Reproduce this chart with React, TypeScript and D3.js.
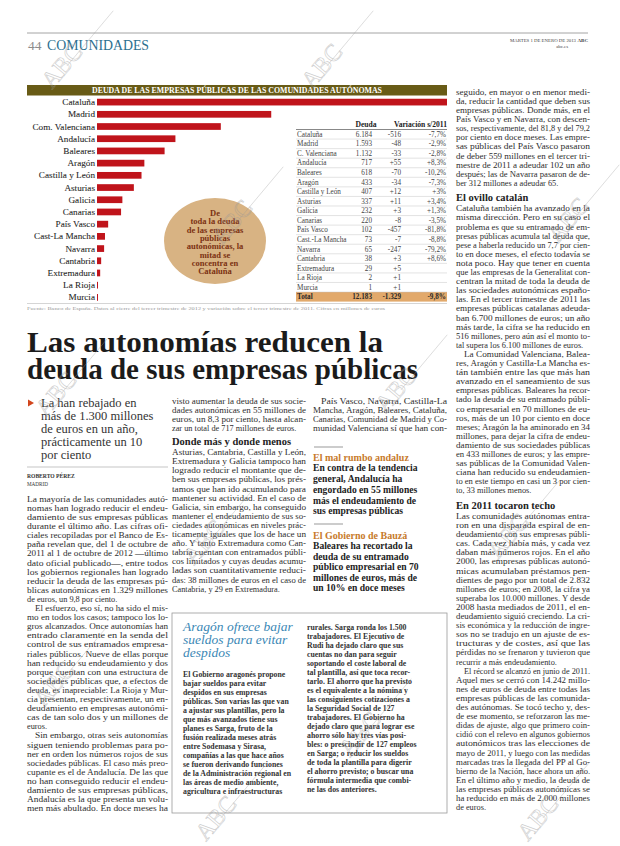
import React from 'react';
import * as d3 from 'd3';

// ---------- DATA ----------
const categories = ['Cataluña', 'Madrid', 'Com. Valenciana', 'Andalucía', 'Baleares', 'Aragón', 'Castilla y León', 'Asturias', 'Galicia', 'Canarias', 'País Vasco', 'Cast-La Mancha', 'Navarra', 'Cantabria', 'Extremadura', 'La Rioja', 'Murcia'];
const tableNames = ['Cataluña', 'Madrid', 'C. Valenciana', 'Andalucía', 'Baleares', 'Aragón', 'Castilla y León', 'Asturias', 'Galicia', 'Canarias', 'País Vasco', 'Cast.-La Mancha', 'Navarra', 'Cantabria', 'Extremadura', 'La Rioja', 'Murcia'];
const debt = [6184, 1593, 1132, 717, 618, 433, 407, 337, 232, 220, 102, 73, 65, 38, 29, 2, 1];
const variation = [-516, -48, -33, 55, -70, -34, 12, 11, 3, -8, -457, -7, -247, 3, 5, 1, 1];
const variationPct = ['-7,7%', '-2,9%', '-2,8%', '+8,3%', '-10,2%', '-7,3%', '+3%', '+3,4%', '+1,3%', '-3,5%', '-81,8%', '-8,8%', '-79,2%', '+8,6%', '', '', ''];
const totalLabel = 'Total';
const totalDebt = 12183;
const totalVariation = -1329;
const totalPct = '-9,8%';

const chartTitle = 'DEUDA DE LAS EMPRESAS PÚBLICAS DE LAS COMUNIDADES AUTÓNOMAS';
const sourceNote = 'Fuente: Banco de España. Datos al cierre del tercer trimestre de 2012 y variación sobre el tercer trimestre de 2011. Cifras en millones de euros';
const calloutLines = ['De', 'toda la deuda', 'de las empresas', 'públicas', 'autonómicas, la', 'mitad se', 'concentra en', 'Cataluña'];

const headlineLines = ['Las autonomías reducen la', 'deuda de sus empresas públicas'];
const deckLines = ['La han rebajado en', 'más de 1.300 millones', 'de euros en un año,', 'prácticamente un 10', 'por ciento'];

const col1 = [
  { indent: false, ends: true, lines: [
    'La mayoría de las comunidades autó-', 'nomas han logrado reducir el endeu-', 'damiento de sus empresas públicas',
    'durante el último año. Las cifras ofi-', 'ciales recopiladas por el Banco de Es-', 'paña revelan que, del 1 de octubre de',
    '2011 al 1 de octubre de 2012 —último', 'dato oficial publicado—, entre todos', 'los gobiernos regionales han logrado',
    'reducir la deuda de las empresas pú-', 'blicas autonómicas en 1.329 millones', 'de euros, un 9,8 por ciento.'] },
  { indent: true, ends: true, lines: [
    'El esfuerzo, eso sí, no ha sido el mis-', 'mo en todos los casos; tampoco los lo-', 'gros alcanzados. Once autonomías han',
    'entrado claramente en la senda del', 'control de sus entramados empresa-', 'riales públicos. Nueve de ellas porque',
    'han reducido su endeudamiento y dos', 'porque cuentan con una estructura de', 'sociedades públicas que, a efectos de',
    'deuda, es inapreciable: La Rioja y Mur-', 'cia presentan, respectivamente, un en-', 'deudamiento en empresas autonómi-',
    'cas de tan solo dos y un millones de', 'euros.'] },
  { indent: true, ends: false, lines: [
    'Sin embargo, otras seis autonomías', 'siguen teniendo problemas para po-', 'ner en orden los números rojos de sus',
    'sociedades públicas. El caso más preo-', 'cupante es el de Andalucía. De las que', 'no han conseguido reducir el endeu-',
    'damiento de sus empresas públicas,', 'Andalucía es la que presenta un volu-', 'men más abultado. En doce meses ha'] },
];

const col2 = [
  { indent: false, ends: true, lines: [
    'visto aumentar la deuda de sus socie-', 'dades autonómicas en 55 millones de', 'euros, un 8,3 por ciento, hasta alcan-',
    'zar un total de 717 millones de euros.'] },
  { heading: 'Donde más y donde menos' },
  { indent: false, ends: true, lines: [
    'Asturias, Cantabria, Castilla y León,', 'Extremadura y Galicia tampoco han', 'logrado reducir el montante que de-',
    'ben sus empresas públicas, los prés-', 'tamos que han ido acumulando para', 'mantener su actividad. En el caso de',
    'Galicia, sin embargo, ha conseguido', 'mantener el endeudamiento de sus so-', 'ciedades autonómicas en niveles prác-',
    'ticamente iguales que los de hace un', 'año. Y tanto Extremadura como Can-', 'tabria cuentan con entramados públi-',
    'cos limitados y cuyas deudas acumu-', 'ladas son cuantitativamente reduci-', 'das: 38 millones de euros en el caso de',
    'Cantabria, y 29 en Extremadura.'] },
];

const col3 = [
  { indent: true, ends: false, lines: [
    'País Vasco, Navarra, Castilla-La', 'Mancha, Aragón, Baleares, Cataluña,', 'Canarias, Comunidad de Madrid y Co-',
    'munidad Valenciana sí que han con-'] },
];

const sideHead1 = 'El mal rumbo andaluz';
const sideText1 = ['En contra de la tendencia', 'general, Andalucía ha', 'engordado en 55 millones', 'más el endeudamiento de', 'sus empresas públicas'];
const sideHead2 = 'El Gobierno de Bauzá';
const sideText2 = ['Baleares ha recortado la', 'deuda de su entramado', 'público empresarial en 70', 'millones de euros, más de', 'un 10% en doce meses'];

const col4 = [
  { indent: false, ends: true, lines: [
    'seguido, en mayor o en menor medi-', 'da, reducir la cantidad que deben sus', 'empresas públicas. Donde más, en el',
    'País Vasco y en Navarra, con descen-', 'sos, respectivamente, del 81,8 y del 79,2', 'por ciento en doce meses. Las empre-',
    'sas públicas del País Vasco pasaron', 'de deber 559 millones en el tercer tri-', 'mestre de 2011 a adeudar 102 un año',
    'después; las de Navarra pasaron de de-', 'ber 312 millones a adeudar 65.'] },
  { heading: 'El ovillo catalán' },
  { indent: false, ends: true, lines: [
    'Cataluña también ha avanzado en la', 'misma dirección. Pero en su caso el', 'problema es que su entramado de em-',
    'presas públicas acumula tal deuda que,', 'pese a haberla reducido un 7,7 por cien-', 'to en doce meses, el efecto todavía se',
    'nota poco. Hay que tener en cuenta', 'que las empresas de la Generalitat con-', 'centran la mitad de toda la deuda de',
    'las sociedades autonómicas españo-', 'las. En el tercer trimestre de 2011 las', 'empresas públicas catalanas adeuda-',
    'ban 6.700 millones de euros; un año', 'más tarde, la cifra se ha reducido en', '516 millones, pero aún así el monto to-',
    'tal supera los 6.100 millones de euros.'] },
  { indent: true, ends: true, lines: [
    'La Comunidad Valenciana, Balea-', 'res, Aragón y Castilla-La Mancha es-', 'tán también entre las que más han',
    'avanzado en el saneamiento de sus', 'empresas públicas. Baleares ha recor-', 'tado la deuda de su entramado públi-',
    'co empresarial en 70 millones de eu-', 'ros, más de un 10 por ciento en doce', 'meses; Aragón la ha aminorado en 34',
    'millones, para dejar la cifra de endeu-', 'damiento de sus sociedades públicas', 'en 433 millones de euros; y las empre-',
    'sas públicas de la Comunidad Valen-', 'ciana han reducido su endeudamien-', 'to en este tiempo en casi un 3 por cien-',
    'to, 33 millones menos.'] },
  { heading: 'En 2011 tocaron techo' },
  { indent: false, ends: true, lines: [
    'Las comunidades autónomas entra-', 'ron en una disparada espiral de en-', 'deudamiento con sus empresas públi-',
    'cas. Cada vez había más, y cada vez', 'daban más números rojos. En el año', '2000, las empresas públicas autonó-',
    'micas acumulaban préstamos pen-', 'dientes de pago por un total de 2.832', 'millones de euros; en 2008, la cifra ya',
    'superaba los 10.000 millones. Y desde', '2008 hasta mediados de 2011, el en-', 'deudamiento siguió creciendo. La cri-',
    'sis económica y la reducción de ingre-', 'sos no se tradujo en un ajuste de es-', 'tructuras y de costes, así que las',
    'pérdidas no se frenaron y tuvieron que', 'recurrir a más endeudamiento.'] },
  { indent: true, ends: true, lines: [
    'El récord se alcanzó en junio de 2011.', 'Aquel mes se cerró con 14.242 millo-', 'nes de euros de deuda entre todas las',
    'empresas públicas de las comunida-', 'des autónomas. Se tocó techo y, des-', 'de ese momento, se reforzaron las me-',
    'didas de ajuste, algo que primero coin-', 'cidió con el relevo en algunos gobiernos', 'autonómicos tras las elecciones de',
    'mayo de 2011, y luego con las medidas', 'marcadas tras la llegada del PP al Go-', 'bierno de la Nación, hace ahora un año.',
    'En el último año y medio, la deuda de', 'las empresas públicas autonómicas se', 'ha reducido en más de 2.000 millones',
    'de euros.'] },
];

const boxTitle = ['Aragón ofrece bajar', 'sueldos para evitar', 'despidos'];
const boxColA = ['El Gobierno aragonés propone', 'bajar sueldos para evitar', 'despidos en sus empresas', 'públicas. Son varias las que van',
  'a ajustar sus plantillas, pero la', 'que más avanzados tiene sus', 'planes es Sarga, fruto de la', 'fusión realizada meses atrás',
  'entre Sodemasa y Sirasa,', 'compañías a las que hace años', 'se fueron derivando funciones', 'de la Administración regional en',
  'las áreas de medio ambiente,', 'agricultura e infraestructuras'];
const boxColB = ['rurales. Sarga ronda los 1.500', 'trabajadores. El Ejecutivo de', 'Rudi ha dejado claro que sus', 'cuentas no dan para seguir',
  'soportando el coste laboral de', 'tal plantilla, así que toca recor-', 'tarlo. El ahorro que ha previsto', 'es el equivalente a la nómina y',
  'las consiguientes cotizaciones a', 'la Seguridad Social de 127', 'trabajadores. El Gobierno ha', 'dejado claro que para lograr ese',
  'ahorro sólo hay tres vías posi-', 'bles: o prescindir de 127 empleos', 'en Sarga; o reducir los sueldos', 'de toda la plantilla para digerir',
  'el ahorro previsto; o buscar una', 'fórmula intermedia que combi-', 'ne las dos anteriores.'];

const watermarks = [[52, 90], [312, 90], [222, 246], [558, 244], [46, 418], [386, 414], [194, 566], [44, 708], [350, 758], [206, 842], [498, 560], [528, 842]];

// ---------- STYLE ----------
const serif = "'Liberation Serif', 'Times New Roman', serif";
const BODY_FS = 8.3;
const BODY_LH = 9.1;

type Item = { heading?: string; indent?: boolean; ends?: boolean; lines?: string[] };

function renderColumn(items: Item[], x: number, width: number, y0: number, key: string, headGap = 13) {
  const out: React.ReactNode[] = [];
  let y = y0;
  items.forEach((it, j) => {
    if (it.heading) {
      const hy = y - BODY_LH + headGap;
      out.push(
        <text key={`${key}h${j}`} x={x} y={hy + 3.6} fontFamily={serif} fontWeight={700} fontSize={10.5} fill="#222">{it.heading}</text>
      );
      y = hy + 11;
      return;
    }
    const lines = it.lines || [];
    lines.forEach((ln, i) => {
      const ind = it.indent && i === 0 ? 8 : 0;
      const justify = i < lines.length - 1 || !it.ends;
      out.push(
        <text key={`${key}${j}-${i}`} x={x + ind} y={y + 2.8} fontFamily={serif} fontSize={BODY_FS} fill="#2e2e2e"
          {...(justify ? { textLength: width - ind, lengthAdjust: 'spacingAndGlyphs' } : {})}>{ln}</text>
      );
      y += BODY_LH;
    });
  });
  return out;
}

export default function App() {
  const locale = d3.formatLocale({ decimal: ',', thousands: '.', grouping: [3], currency: ['', ' €'], minus: '-' });
  const fNum = locale.format(',d');
  const fVar = locale.format('+,d');

  const x = d3.scaleLinear().domain([0, 3200]).range([97, 447]).clamp(true);
  const y = d3.scaleBand<string>().domain(categories).range([96, 303.5]).paddingInner(0.45).paddingOuter(0.225);
  const rowKeys = [...tableNames, totalLabel];
  const rowY = d3.scaleBand<string>().domain(rowKeys).range([129.5, 301.6]);
  const rs = rowY.step();

  const tX0 = 296, tX1 = 447;

  return (
    <svg width={620} height={846} style={{ position: 'absolute', left: 0, top: 0, background: '#fff' }} xmlns="http://www.w3.org/2000/svg">
      <rect x={0} y={0} width={620} height={846} fill="#fff" />
      {/* page header */}
      <line x1={27} x2={588} y1={33} y2={33} stroke="#9a9a9a" strokeWidth={0.9} />
      <text x={28} y={50} fontFamily={serif} fontSize={13.5} fill="#8c8c8c">44</text>
      <text x={47} y={50} fontFamily={serif} fontSize={14} fill="#2c6f90" textLength={102} lengthAdjust="spacingAndGlyphs">COMUNIDADES</text>
      <text x={576} y={41.5} textAnchor="end" fontFamily={serif} fontSize={4.8} fill="#444">MARTES 1 DE ENERO DE 2013</text>
      <text x={588} y={41.5} textAnchor="end" fontFamily={serif} fontSize={5} fontWeight={700} fill="#444">ABC</text>
      <text x={568} y={47.5} textAnchor="end" fontFamily={serif} fontSize={4.8} fill="#444">abc.es</text>

      {/* chart title bar */}
      <rect x={27} y={85} width={420} height={10.5} fill="#685b16" />
      <text x={237} y={93.2} textAnchor="middle" fontFamily={serif} fontWeight={700} fontSize={7.3} fill="#fff" textLength={290} lengthAdjust="spacingAndGlyphs">{chartTitle}</text>

      {/* bars */}
      {categories.map((c, i) => (
        <g key={c}>
          <rect x={x(0)} y={y(c)!} width={Math.max(1, x(debt[i]) - x(0))} height={y.bandwidth()} fill="#c0141b" />
          <text x={95} y={y(c)! + y.bandwidth() / 2 + 3.1} textAnchor="end" fontFamily={serif} fontSize={9.2} fill="#262626" stroke="#262626" strokeWidth={0.08}>{c}</text>
        </g>
      ))}

      {/* callout */}
      <ellipse cx={215} cy={241} rx={51} ry={43} fill="#d8b383" />
      {calloutLines.map((t, i) => (
        <text key={t} x={215} y={213 + i * 8.3 + 3} textAnchor="middle" fontFamily={serif} fontWeight={700} fontSize={8.5} fill="#7b3112">{t}</text>
      ))}

      {/* table */}
      <text x={366} y={127} textAnchor="middle" fontFamily={serif} fontWeight={700} fontSize={7.6} fill="#222">Deuda</text>
      <text x={447} y={127} textAnchor="end" fontFamily={serif} fontWeight={700} fontSize={7.6} fill="#222">Variación s/2011</text>
      <rect x={tX0} y={rowY(totalLabel)!} width={tX1 - tX0} height={rs} fill="#e2a96b" />
      {rowKeys.map((k, i) => (
        <line key={`l${k}`} x1={tX0} x2={tX1} y1={rowY(k)!} y2={rowY(k)!} stroke={i === 0 ? '#555' : '#b8b8b8'} strokeWidth={i === 0 ? 0.7 : 0.4} />
      ))}
      {tableNames.map((n, i) => {
        const cy = rowY(n)! + rs / 2 + 2.5;
        return (
          <g key={`r${n}`} fontFamily={serif} fontSize={7.2} fill="#444">
            <text x={tX0 + 1} y={cy}>{n}</text>
            <text x={372} y={cy} textAnchor="end">{fNum(debt[i])}</text>
            <text x={401} y={cy} textAnchor="end">{fVar(variation[i])}</text>
            <text x={446} y={cy} textAnchor="end">{variationPct[i]}</text>
          </g>
        );
      })}
      <g fontFamily={serif} fontSize={7.2} fontWeight={700} fill="#2a2a2a">
        <text x={tX0 + 1} y={rowY(totalLabel)! + rs / 2 + 2.5}>{totalLabel}</text>
        <text x={372} y={rowY(totalLabel)! + rs / 2 + 2.5} textAnchor="end">{fNum(totalDebt)}</text>
        <text x={401} y={rowY(totalLabel)! + rs / 2 + 2.5} textAnchor="end">{fVar(totalVariation)}</text>
        <text x={446} y={rowY(totalLabel)! + rs / 2 + 2.5} textAnchor="end">{totalPct}</text>
      </g>

      {/* chart footer */}
      <line x1={27} x2={447} y1={303.5} y2={303.5} stroke="#aaa" strokeWidth={0.5} />
      <text x={27} y={309.5} fontFamily={serif} fontSize={4.6} fill="#9a9a9a" textLength={358} lengthAdjust="spacingAndGlyphs">{sourceNote}</text>

      {/* headline */}
      <text x={27} y={352} fontFamily={serif} fontWeight={700} fontSize={30} fill="#1b1b1b" textLength={356} lengthAdjust="spacingAndGlyphs">{headlineLines[0]}</text>
      <text x={27} y={379} fontFamily={serif} fontWeight={700} fontSize={30} fill="#1b1b1b" textLength={391} lengthAdjust="spacingAndGlyphs">{headlineLines[1]}</text>

      {/* deck */}
      <path d="M28,399.5 L28,406.5 L34,403 Z" fill="#d2461d" />
      {deckLines.map((t, i) => (
        <text key={t} x={41} y={403 + i * 13 + 4.3} fontFamily={serif} fontSize={12.5} fill="#333">{t}</text>
      ))}
      <line x1={27} x2={168} y1={467} y2={467} stroke="#888" strokeWidth={0.5} />
      <text x={27} y={478} fontFamily={serif} fontWeight={700} fontSize={5.6} fill="#333">ROBERTO PÉREZ</text>
      <text x={27} y={485.5} fontFamily={serif} fontSize={5.2} fill="#333">MADRID</text>

      {/* body columns */}
      {renderColumn(col1, 27, 141, 499, 'c1')}
      {renderColumn(col2, 172, 134, 401, 'c2')}
      {renderColumn(col3, 313, 134, 401, 'c3')}
      {renderColumn(col4, 456, 134, 92, 'c4', 14.5)}

      {/* side highlights */}
      <line x1={314} x2={343} y1={447} y2={447} stroke="#555" strokeWidth={0.6} />
      <text x={313} y={460.5} fontFamily={serif} fontWeight={700} fontSize={10} fill="#c77a2b">{sideHead1}</text>
      {sideText1.map((t, i) => (
        <text key={t} x={313} y={468 + i * 10.7 + 3.4} fontFamily={serif} fontWeight={700} fontSize={9.6} fill="#222">{t}</text>
      ))}
      <line x1={314} x2={343} y1={524} y2={524} stroke="#555" strokeWidth={0.6} />
      <text x={313} y={538.5} fontFamily={serif} fontWeight={700} fontSize={10} fill="#c77a2b">{sideHead2}</text>
      {sideText2.map((t, i) => (
        <text key={t} x={313} y={546 + i * 10.5 + 3.4} fontFamily={serif} fontWeight={700} fontSize={9.6} fill="#222">{t}</text>
      ))}

      {/* box */}
      <rect x={172} y={613} width={275} height={200} fill="none" stroke="#9a9a9a" strokeWidth={0.8} />
      {boxTitle.map((t, i) => (
        <text key={t} x={183} y={627 + i * 13 + 4.2} fontFamily={serif} fontStyle="italic" fontSize={13.5} fill="#3a87b5">{t}</text>
      ))}
      {boxColA.map((t, i) => (
        <text key={`a${i}`} x={183} y={674 + i * 9 + 2.7} fontFamily={serif} fontWeight={700} fontSize={7.8} fill="#333">{t}</text>
      ))}
      {boxColB.map((t, i) => (
        <text key={`b${i}`} x={307} y={627 + i * 9 + 2.7} fontFamily={serif} fontWeight={700} fontSize={7.8} fill="#333">{t}</text>
      ))}

      {/* watermarks */}
      {watermarks.map(([wx, wy], i) => (
        <g key={`w${i}`} transform={`translate(${wx},${wy}) rotate(-50)`} opacity={0.5}>
          <text x={0} y={0} fontFamily={serif} fontSize={24} fill="none" stroke="#999" strokeWidth={0.6}>ABC</text>
          <line x1={28} y1={-4} x2={100} y2={-4} stroke="#999" strokeWidth={0.6} />
        </g>
      ))}
    </svg>
  );
}
